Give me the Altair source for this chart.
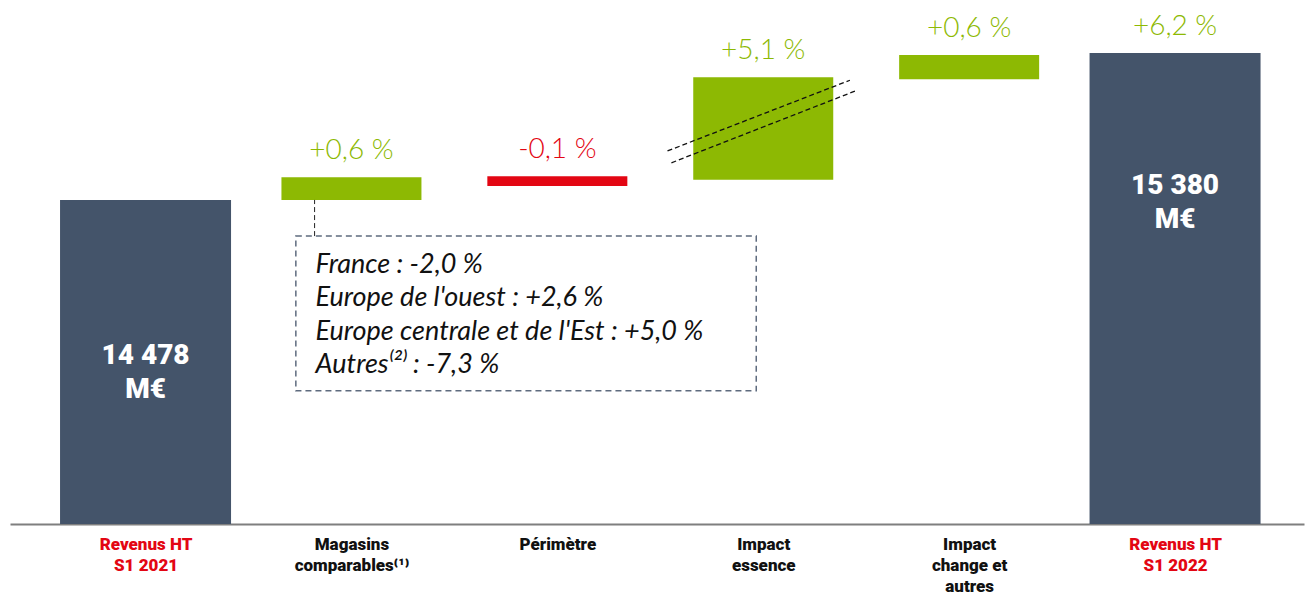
import altair as alt
import pandas as pd

# ---- data (y in chart units, 0 = baseline, 100 = top) ----
categories = ["Revenus HT|S1 2021", "Magasins|comparables⁽¹⁾", "Périmètre",
              "Impact|essence", "Impact|change et|autres", "Revenus HT|S1 2022"]
bar_kind = ["total", "up", "down", "up", "up", "total"]
bar_base = [0.0, 62.8, 65.5, 66.7, 86.2, 0.0]
bar_top = [62.8, 67.2, 67.4, 86.6, 90.9, 91.3]
pct_labels = ["", "+0,6 %", "-0,1 %", "+5,1 %", "+0,6 %", "+6,2 %"]
total_labels = ["14 478\nM€", "15 380\nM€"]
total_label_level = [32.6, 65.5]
callout_lines = ["France : -2,0 %", "Europe de l'ouest : +2,6 %",
                 "Europe centrale et de l'Est : +5,0 %", "Autres⁽²⁾ : -7,3 %"]

SLATE = "#44546A"
GREEN = "#8DB903"
RED = "#E30613"
color_of = {"total": SLATE, "up": GREEN, "down": RED}

pos = list(range(len(categories)))
df = pd.DataFrame({
    "pos": pos, "cat": categories, "kind": bar_kind,
    "base": bar_base, "top": bar_top, "pct": pct_labels,
    "color": [color_of[k] for k in bar_kind],
    "pct_color": [GREEN if k != "down" else RED for k in bar_kind],
})

W, H = 1294, 516
xscale = alt.Scale(domain=[-0.634, 5.602], nice=False, zero=False)
yscale = alt.Scale(domain=[0, 100], nice=False, zero=True)

label_array = "[" + ",".join("'" + c + "'" for c in categories) + "]"
xaxis = alt.Axis(
    values=pos, title=None, grid=False, ticks=False,
    labelExpr=f"split({label_array}[datum.value], '|')",
    labelFont="Roboto", labelFontWeight=900, labelFontSize=17,
    labelLineHeight=21, labelPadding=12, labelBaseline="top",
    labelColor=alt.condition("datum.value == 0 || datum.value == 5",
                             alt.value(RED), alt.value("#111111")),
    domainColor="#7f7f7f", domainWidth=2, labelFlush=False, labelOverlap=False,
)


def X(field):
    return alt.X(field, type="quantitative", scale=xscale, axis=xaxis)


def Y(field):
    return alt.Y(field, type="quantitative", scale=yscale, axis=None)


base = alt.Chart(df)

totals = base.transform_filter("datum.kind == 'total'").mark_bar(size=171).encode(
    x=X("pos"), y=Y("base"), y2="top:Q",
    color=alt.Color("color:N", scale=None),
)
deltas = base.transform_filter("datum.kind != 'total'").mark_bar(size=140).encode(
    x=X("pos"), y=Y("base"), y2="top:Q",
    color=alt.Color("color:N", scale=None),
)
pct = base.transform_filter("datum.pct != ''").mark_text(
    font="Lato", fontSize=28, fontWeight=300, baseline="middle", dy=-26
).encode(
    x=X("pos"), y=Y("top"),
    text="pct:N", color=alt.Color("pct_color:N", scale=None),
)

tot_df = pd.DataFrame({"pos": [0, len(categories) - 1], "lvl": total_label_level,
                       "txt": total_labels})
tot_text = alt.Chart(tot_df).mark_text(
    font="Roboto", fontWeight=900, fontSize=28, color="white",
    lineBreak="\n", lineHeight=34, baseline="middle"
).encode(x=X("pos"), y=Y("lvl"), text="txt:N")

# callout box (chart units)
box_df = pd.DataFrame({"x": [0.730], "x2": [2.966], "y": [25.8], "y2": [55.8]})
box = alt.Chart(box_df).mark_rect(
    fill="white", fillOpacity=0, stroke="#5E6B7E", strokeWidth=1.5, strokeDash=[6, 4]
).encode(x=X("x"), x2="x2:Q", y=Y("y"), y2="y2:Q")

conn_df = pd.DataFrame({"x": [0.821], "y": [55.8], "y2": [62.8]})
conn = alt.Chart(conn_df).mark_rule(color="#222222", strokeWidth=1, strokeDash=[5, 3]).encode(
    x=X("x"), y=Y("y"), y2="y2:Q")

call_df = pd.DataFrame({"x": [0.826], "y": [50.2], "txt": ["\n".join(callout_lines)]})
call_text = alt.Chart(call_df).mark_text(
    font="Lato", fontStyle="italic", fontSize=27, align="left", baseline="middle",
    lineBreak="\n", lineHeight=33.3, color="#111111"
).encode(x=X("x"), y=Y("y"), text="txt:N")

# axis-break marks across the "Impact essence" bar
brk_df = pd.DataFrame({"x": [2.535, 2.554], "x2": [3.421, 3.446],
                       "y": [72.3, 70.0], "y2": [86.0, 83.9]})
brk = alt.Chart(brk_df).mark_rule(color="#111111", strokeWidth=1.3, strokeDash=[5, 3]).encode(
    x=X("x"), x2="x2:Q", y=Y("y"), y2="y2:Q")

chart = alt.layer(totals, deltas, pct, tot_text, box, conn, call_text, brk).properties(
    width=W, height=H,
    autosize=alt.AutoSizeParams(type="none"),
    padding={"left": 2, "top": 0, "right": 2, "bottom": 70},
).configure_view(stroke=None)

chart.save("out.html", embed_options={"renderer": "svg", "actions": False})
